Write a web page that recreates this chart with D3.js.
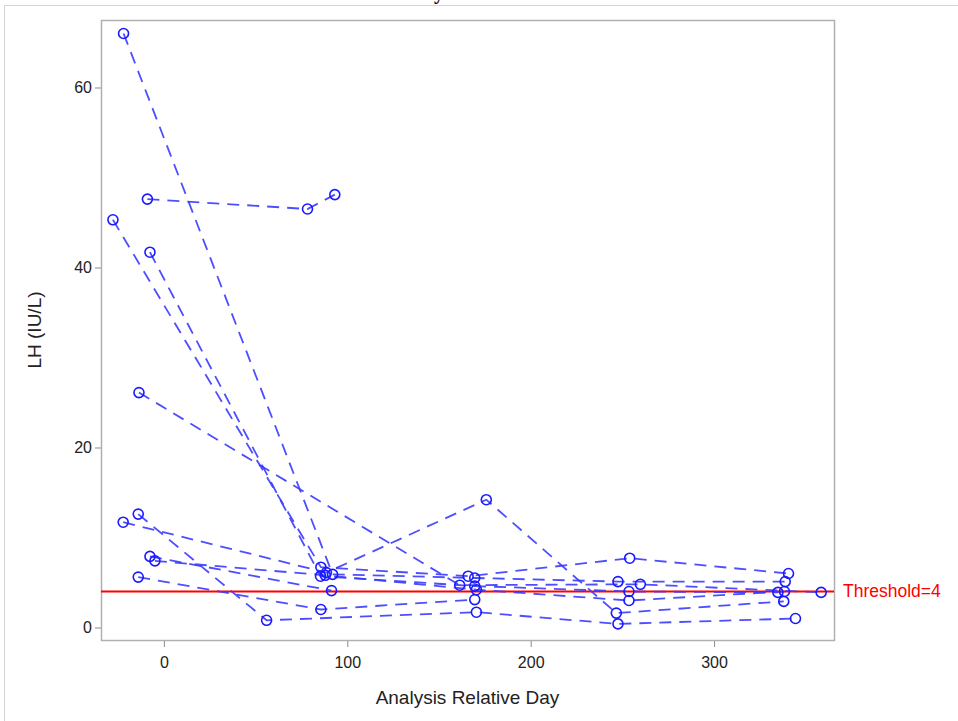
<!DOCTYPE html>
<html>
<head>
<meta charset="utf-8">
<script src="https://cdn.jsdelivr.net/npm/d3@7"></script>
<style>
  body { margin: 0; background: #fff; }
  svg { display: block; font-family: "Liberation Sans", Arial, sans-serif; }
</style>
</head>
<body>
<div id="chart"></div>
<script>
// LH values per subject: [analysis relative day, LH (IU/L)]
const subj01 = [[-22, 66.0], [92, 5.9], [169.5, 5.5], [247.6, 5.1], [338.8, 5.1]];
const subj02 = [[-9, 47.6], [78.3, 46.5], [93.2, 48.1]];
const subj03 = [[-27.8, 45.3], [85.6, 6.7], [165.9, 5.7], [254, 7.7], [340.6, 6.0]];
const subj04 = [[-7.6, 41.7], [85.4, 5.7], [169.5, 4.6], [253.6, 4.0], [334.8, 3.9]];
const subj05 = [[-13.6, 26.1], [161.3, 4.7], [259.8, 4.8], [358.4, 3.9]];
const subj06 = [[-14, 12.6], [56, 0.8], [170.4, 1.7], [247.6, 0.4], [344.4, 1.0]];
const subj07 = [[-22.2, 11.7], [88.6, 6.1], [175.8, 14.2], [246.7, 1.6], [338.0, 2.9]];
const subj08 = [[-7.6, 7.9], [91.4, 4.1]];
const subj09 = [[-4.9, 7.4], [88, 5.8], [170.4, 4.2], [253.6, 3.0], [338.4, 4.0]];
const subj10 = [[-14, 5.6], [85.6, 2.0], [169.5, 3.1]];
const subjects = [subj01, subj02, subj03, subj04, subj05, subj06, subj07, subj08, subj09, subj10];

const threshold = 4;
const xTicks = [0, 100, 200, 300];
const yTicks = [0, 20, 40, 60];

const [width, height] = [958, 721];
const frame = { left: 101, right: 834, top: 20, bottom: 640 };

const svg = d3.select("#chart").append("svg")
  .attr("width", width)
  .attr("height", height);

// outer border of the graph area
svg.append("rect")
  .attr("x", 4.5).attr("y", 5.5)
  .attr("width", width).attr("height", height)
  .attr("fill", "none").attr("stroke", "#d4d4d4");

// title, mostly cut off above the picture (as in the original)
svg.append("text")
  .attr("x", 444).attr("y", -1)
  .attr("text-anchor", "end")
  .attr("font-family", "'Liberation Serif', serif")
  .attr("font-weight", "bold")
  .attr("font-size", 20)
  .text("LH Summary");

const x = d3.scaleLinear().domain([-34.3, 365.4]).range([frame.left, frame.right]);
const y = d3.scaleLinear().domain([-1.39, 67.5]).range([frame.bottom, frame.top]);

// axes
const xAxis = svg.append("g")
  .attr("transform", `translate(0,${frame.bottom})`)
  .call(d3.axisBottom(x).tickValues(xTicks).tickSize(7).tickPadding(10).tickFormat(d3.format("d")));
const yAxis = svg.append("g")
  .attr("transform", `translate(${frame.left},0)`)
  .call(d3.axisLeft(y).tickValues(yTicks).tickSize(6).tickPadding(3).tickFormat(d3.format("d")));

[xAxis, yAxis].forEach(g => {
  g.select(".domain").remove();
  g.selectAll(".tick line").attr("stroke", "#8c8c8c");
  g.selectAll(".tick text")
    .attr("fill", "#222")
    .attr("font-size", 16)
    .attr("font-family", "'Liberation Sans', Arial, sans-serif");
});

// frame
svg.append("rect")
  .attr("x", frame.left + 0.5).attr("y", frame.top + 0.5)
  .attr("width", frame.right - frame.left).attr("height", frame.bottom - frame.top)
  .attr("fill", "none").attr("stroke", "#b0b0b0").attr("stroke-width", 1.5);

// axis labels
svg.append("text")
  .attr("x", (frame.left + frame.right) / 2).attr("y", 704)
  .attr("text-anchor", "middle")
  .attr("font-size", 19).attr("fill", "#222")
  .text("Analysis Relative Day");

svg.append("text")
  .attr("transform", `translate(41,${(frame.top + frame.bottom) / 2}) rotate(-90)`)
  .attr("text-anchor", "middle")
  .attr("font-size", 19).attr("fill", "#222")
  .text("LH (IU/L)");

// threshold reference line
svg.append("line")
  .attr("x1", frame.left).attr("x2", frame.right)
  .attr("y1", y(threshold)).attr("y2", y(threshold))
  .attr("stroke", "#ff0000").attr("stroke-width", 2);

svg.append("text")
  .attr("x", frame.right + 9).attr("y", y(threshold) + 6)
  .attr("font-size", 17.5).attr("fill", "#ff0000")
  .text("Threshold=" + threshold);

// subject profiles
const line = d3.line().x(d => x(d[0])).y(d => y(d[1]));

const plot = svg.append("g");

plot.selectAll("path.profile")
  .data(subjects)
  .enter().append("path")
  .attr("class", "profile")
  .attr("d", line)
  .attr("fill", "none")
  .attr("stroke", "#3b3bff")
  .attr("stroke-opacity", 0.9)
  .attr("stroke-width", 1.8)
  .attr("stroke-dasharray", "12,8");

plot.selectAll("circle")
  .data(subjects.flat())
  .enter().append("circle")
  .attr("cx", d => x(d[0]))
  .attr("cy", d => y(d[1]))
  .attr("r", 5)
  .attr("fill", "none")
  .attr("stroke", "#1a1aff")
  .attr("stroke-width", 1.6);
</script>
</body>
</html>
